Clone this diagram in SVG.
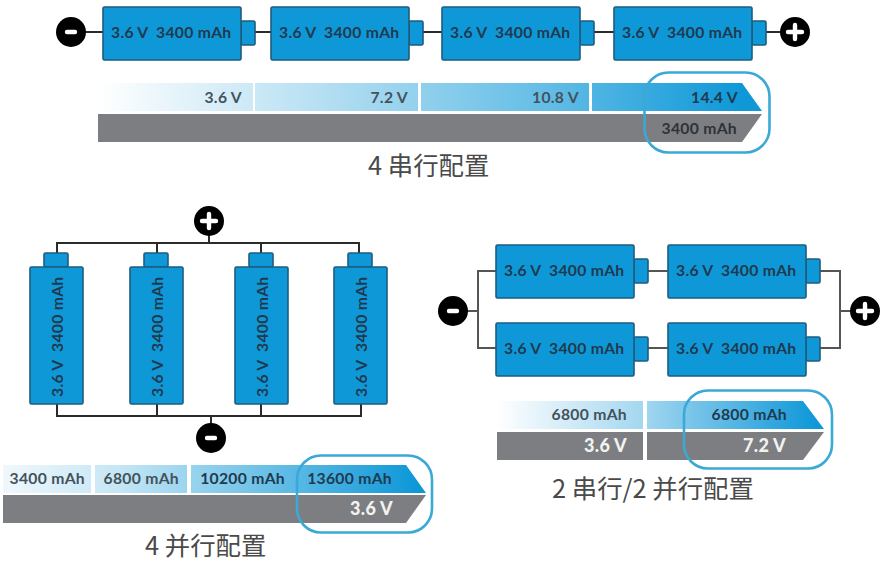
<svg xmlns="http://www.w3.org/2000/svg" width="882" height="564" viewBox="0 0 882 564">
<style>
.bat{fill:#0f98d8;stroke:#1d5c7e;stroke-width:1.6}
.w{fill:none;stroke:#2b2b2b;stroke-width:2}
.w2{fill:none;stroke:#555;stroke-width:2}
.t{font-family:"Lato","Liberation Sans",sans-serif;font-weight:700;font-size:15.7px;fill:#1f3a4e;letter-spacing:.3px}
.v{font-family:"Lato","Liberation Sans",sans-serif;font-weight:700;font-size:15.7px;fill:#44525c;text-anchor:end;letter-spacing:.3px}
.wv{font-family:"Lato","Liberation Sans",sans-serif;font-weight:900;font-size:18px;fill:#f2f2f2;text-anchor:end;letter-spacing:.3px}
.cap{font-family:"Noto Sans CJK SC","Noto Sans",sans-serif;font-size:25.4px;fill:#4a4a4a}
.g{fill:#7d7e81}
.ring{fill:none;stroke:#3ba9d6;stroke-width:2.6}
.sym{stroke:#fff;stroke-width:4.4;stroke-linecap:round}
</style>
<defs>
<linearGradient id="g1" gradientUnits="userSpaceOnUse" x1="98" y1="0" x2="740" y2="0"><stop offset="0" stop-color="#fff"/><stop offset=".35" stop-color="#b5dff2"/><stop offset=".7" stop-color="#63bde6"/><stop offset="1" stop-color="#0f98d8"/></linearGradient>
<linearGradient id="g2" gradientUnits="userSpaceOnUse" x1="-40" y1="0" x2="415" y2="0"><stop offset="0" stop-color="#fff"/><stop offset=".35" stop-color="#c5e6f5"/><stop offset=".7" stop-color="#63bde6"/><stop offset="1" stop-color="#0f98d8"/></linearGradient>
<linearGradient id="g3" gradientUnits="userSpaceOnUse" x1="497" y1="0" x2="815" y2="0"><stop offset="0" stop-color="#fff"/><stop offset=".45" stop-color="#a5d8f0"/><stop offset="1" stop-color="#0f98d8"/></linearGradient>
<g id="hb"><rect class="bat" x="138" y="14" width="14" height="24" rx="1.500"/><rect class="bat" x="0" y="0" width="138" height="53" rx="1.500"/><text class="t" x="8" y="31">3.6 V</text><text class="t" x="53" y="31">3400 mAh</text></g>
<g id="vb"><rect class="bat" x="14" y="-14" width="24" height="14" rx="1.500"/><rect class="bat" x="0" y="0" width="53" height="137" rx="1.500"/><text class="t" transform="translate(33,130) rotate(-90)">3.6 V</text><text class="t" transform="translate(33,85) rotate(-90)">3400 mAh</text></g>
</defs>

<g id="connectors">
<path class="w" d="M71 32H103M254 32H271M423 32H442M593 32H614M765 32H795"/>
<path class="w" d="M209 221V243M57 253V243H359V253M157 243V253M261 243V253"/>
<path class="w" d="M57 404V416H361V404M157 404V416M261 404V416M211 416V438"/>
<path class="w2" d="M453 311H478M496 271H478V348H496M648 271H669M648 348H669M820 271H840V348H820M840 311H865"/>
</g>

<g id="series-battery-1"><use href="#hb" x="103" y="7"/></g>
<g id="series-battery-2"><use href="#hb" x="271" y="7"/></g>
<g id="series-battery-3"><use href="#hb" x="442" y="7"/></g>
<g id="series-battery-4"><use href="#hb" x="614" y="7"/></g>
<g id="series-minus"><circle cx="71" cy="32" r="15"/><path class="sym" d="M67 32H75"/></g>
<g id="series-plus"><circle cx="795" cy="32" r="15"/><path class="sym" d="M788 32H802M795 25V39"/></g>

<g id="series-bar">
<path fill="url(#g1)" d="M98 83H253V111H98ZM255 83H418V111H255ZM421 83H589V111H421ZM592 83H742L762 111H592Z"/>
<path class="g" d="M98 114H762L742 142H98Z"/>
<text class="v" x="242" y="103">3.6 V</text><text class="v" x="408" y="103">7.2 V</text><text class="v" x="579" y="103">10.8 V</text><text class="v" x="738" y="103" style="fill:#1f3a4e">14.4 V</text>
<text class="v" x="737" y="134" style="fill:#2e3336">3400 mAh</text>
<rect class="ring" x="644.500" y="72.500" width="125" height="80" rx="24"/>
</g>
<text id="series-title" class="cap" x="368" y="175">4 串行配置</text>

<g id="parallel-battery-1"><use href="#vb" x="30" y="267"/></g>
<g id="parallel-battery-2"><use href="#vb" x="130" y="267"/></g>
<g id="parallel-battery-3"><use href="#vb" x="235" y="267"/></g>
<g id="parallel-battery-4"><use href="#vb" x="334" y="267"/></g>
<g id="parallel-plus"><circle cx="209" cy="221" r="15"/><path class="sym" d="M202 221H216M209 214V228"/></g>
<g id="parallel-minus"><circle cx="211" cy="438" r="15"/><path class="sym" d="M207 438H215"/></g>

<g id="parallel-bar">
<path fill="url(#g2)" d="M3 465H91V493H3ZM95 465H187V493H95ZM191 465H297V493H191ZM297 465H406L426 493H297Z"/>
<path class="g" d="M3 495H426L406 523H3Z"/>
<text class="v" x="85" y="484">3400 mAh</text><text class="v" x="179" y="484">6800 mAh</text><text class="v" x="285" y="484" style="fill:#1f3a4e">10200 mAh</text><text class="v" x="392" y="484" style="fill:#1f3a4e">13600 mAh</text>
<text class="wv" x="393" y="515">3.6 V</text>
<rect class="ring" x="297" y="455.500" width="135" height="77" rx="24"/>
</g>
<text id="parallel-title" class="cap" x="145" y="555">4 并行配置</text>

<g id="mixed-battery-1"><use href="#hb" x="496" y="245"/></g>
<g id="mixed-battery-2"><use href="#hb" x="668" y="245"/></g>
<g id="mixed-battery-3"><use href="#hb" x="496" y="323"/></g>
<g id="mixed-battery-4"><use href="#hb" x="668" y="323"/></g>
<g id="mixed-minus"><circle cx="453" cy="311" r="15"/><path class="sym" d="M449 311H457"/></g>
<g id="mixed-plus"><circle cx="865" cy="311" r="15"/><path class="sym" d="M858 311H872M865 304V318"/></g>

<g id="mixed-bar">
<path fill="url(#g3)" d="M497 401H643V429H497ZM647 401H803L824 429H647Z"/>
<path class="g" d="M497 432H643V460H497ZM647 432H824L803 460H647Z"/>
<text class="v" x="627" y="420">6800 mAh</text><text class="v" x="787" y="420" style="fill:#1f3a4e">6800 mAh</text>
<text class="wv" x="627" y="452">3.6 V</text><text class="wv" x="786" y="452">7.2 V</text>
<rect class="ring" x="684" y="390.500" width="148" height="78" rx="24"/>
</g>
<text id="mixed-title" class="cap" x="552" y="498">2 串行/2 并行配置</text>
</svg>
